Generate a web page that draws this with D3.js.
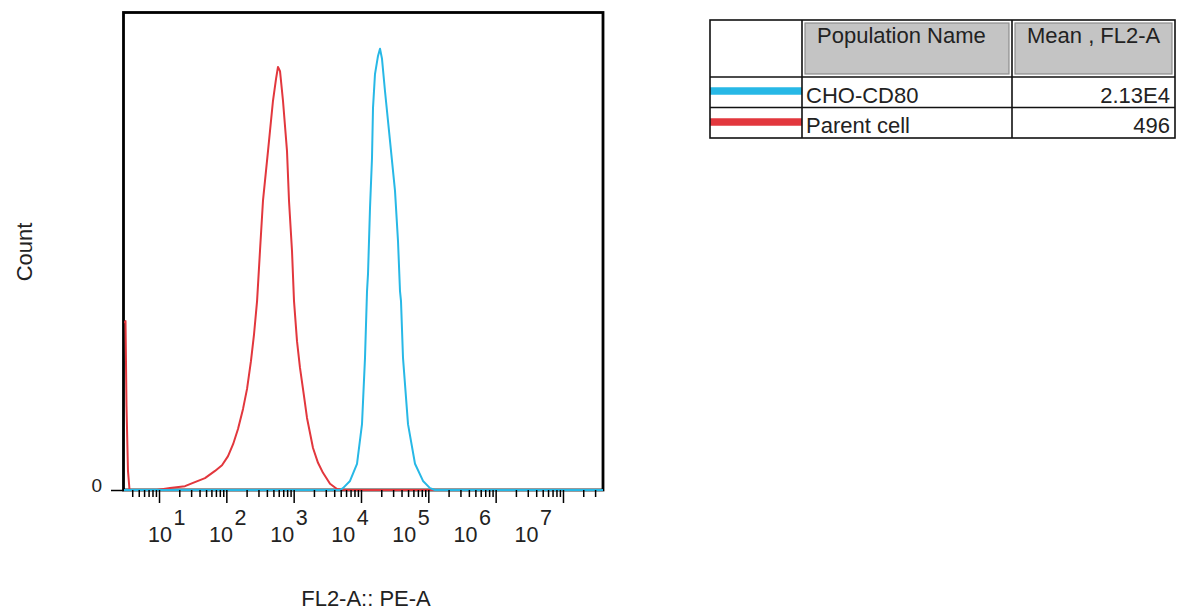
<!DOCTYPE html>
<html>
<head>
<meta charset="utf-8">
<script src="https://cdn.jsdelivr.net/npm/d3@7"></script>
<style>
  body { margin: 0; background: #fff; }
  svg { display: block; font-family: "Liberation Sans", Arial, sans-serif; }
</style>
</head>
<body>
<svg id="chart" width="1181" height="612"></svg>
<script>
// histogram points (FL2-A value, count as % of max)
const parentFL2 = [3.02, 3.18, 3.29, 3.46, 3.65, 9.34, 14.6, 24.3, 32.0, 48.2, 67.9, 86.2, 106, 126, 149, 177, 203, 232, 258, 286, 316, 350, 416, 493, 547, 585, 627, 694, 796, 853, 945, 1012, 1121, 1242, 1424, 1578, 1938, 2299, 2728, 3465, 4402, 5788, 3.93e7];
const parentCount = [35.0, 35.4, 17.6, 4.0, 0, 0, 0.4, 0.8, 1.5, 2.5, 4.0, 5.2, 7.1, 9.6, 12.8, 17.0, 21.2, 27.0, 32.7, 39.6, 50.1, 60.6, 71.1, 81.6, 86.2, 88.7, 87.8, 81.6, 71.1, 60.6, 50.1, 39.6, 31.2, 25.6, 19.7, 15.1, 8.8, 5.7, 3.6, 1.3, 0.2, 0, 0];

const cd80FL2 = [3.02, 4875, 5405, 6868, 8725, 10350, 11470, 12290, 12710, 13610, 14570, 15080, 16140, 17890, 19160, 20510, 22730, 26970, 32000, 35450, 37960, 39280, 42070, 49920, 63410, 83370, 105900, 125700, 3.93e7];
const cd80Count = [0, 0, 0.4, 1.9, 5.5, 13.8, 27.7, 41.7, 45.3, 59.1, 69.6, 80.1, 87.2, 91.0, 92.5, 90.4, 83.6, 73.2, 62.7, 52.2, 41.7, 39.6, 27.7, 13.8, 5.5, 1.9, 0.4, 0, 0];

const populationNames = ["CHO-CD80", "Parent cell"];
const meanValues = ["2.13E4", "496"];
const populationColors = ["#27b8e6", "#e2373d"];
const tableHeaders = ["Population Name", "Mean , FL2-A"];
const decadeExponents = [1, 2, 3, 4, 5, 6, 7];
const yTickValues = [0];

const svg = d3.select("#chart");
const plotLeft = 124, plotRight = 603, plotTop = 12, plotBottom = 490;

const x = d3.scaleLog().domain([3.02, 3.93e7]).range([plotLeft, plotRight]);
const y = d3.scaleLinear().domain([0, 100]).range([plotBottom, plotTop + 1]);

// frame
svg.append("rect")
  .attr("x", plotLeft - 0.5).attr("y", plotTop + 0.5)
  .attr("width", plotRight - plotLeft + 0.5).attr("height", plotBottom - plotTop - 0.5)
  .attr("fill", "none").attr("stroke", "#000").attr("stroke-width", 2.8);

svg.append("clipPath").attr("id", "plot-clip")
  .append("rect").attr("x", plotLeft).attr("y", plotTop)
  .attr("width", plotRight - plotLeft).attr("height", plotBottom - plotTop + 2);

const line = d3.line().x(d => x(d[0])).y(d => y(d[1]));
const series = [
  { color: populationColors[1], pts: d3.zip(parentFL2, parentCount) },
  { color: populationColors[0], pts: d3.zip(cd80FL2, cd80Count) }
];
svg.append("g").attr("clip-path", "url(#plot-clip)")
  .selectAll("path").data(series).join("path")
  .attr("d", d => line(d.pts))
  .attr("fill", "none")
  .attr("stroke", d => d.color)
  .attr("stroke-width", 2)
  .attr("stroke-linejoin", "round");

// x axis: minor and major ticks
const allTicks = x.ticks();
const majorTicks = decadeExponents.map(e => Math.pow(10, e));
const minorTicks = allTicks.filter(t => !majorTicks.some(m => Math.abs(m - t) / m < 1e-9));

const minorAxis = svg.append("g").attr("transform", `translate(0,${plotBottom})`)
  .call(d3.axisBottom(x).tickValues(minorTicks).tickSize(7).tickFormat(""));
const majorAxis = svg.append("g").attr("transform", `translate(0,${plotBottom})`)
  .call(d3.axisBottom(x).tickValues(majorTicks).tickSize(13).tickFormat(""));
[minorAxis, majorAxis].forEach(a => {
  a.select(".domain").remove();
  a.selectAll(".tick line").attr("stroke", "#000").attr("stroke-width", 1.5);
});

// decade labels (FlowJo draws them slightly narrower than the tick spacing)
const labelX = d3.scaleLinear().domain([1, 7]).range([160, 526.5]);
const labels = svg.append("g").attr("fill", "#222").attr("font-size", 21.5);
labels.selectAll("text.base").data(decadeExponents).join("text")
  .attr("class", "base")
  .attr("x", d => labelX(d)).attr("y", 542)
  .attr("text-anchor", "middle")
  .text("10");
labels.selectAll("text.exp").data(decadeExponents).join("text")
  .attr("class", "exp")
  .attr("x", d => labelX(d) + 13.5).attr("y", 525)
  .text(d => d);

// y axis with only the zero tick
const yAxis = svg.append("g").attr("transform", `translate(${plotLeft},0)`)
  .call(d3.axisLeft(y).tickValues(yTickValues).tickSize(13).tickPadding(9));
yAxis.select(".domain").remove();
yAxis.selectAll(".tick line").attr("stroke", "#000").attr("stroke-width", 1.5);
yAxis.selectAll(".tick text")
  .attr("font-family", "Liberation Sans, Arial, sans-serif")
  .attr("font-size", 19).attr("fill", "#222").attr("dy", "0.08em");

// axis titles
svg.append("text")
  .attr("x", 366).attr("y", 606)
  .attr("text-anchor", "middle").attr("font-size", 22).attr("fill", "#222")
  .text("FL2-A:: PE-A");
svg.append("text")
  .attr("transform", "translate(32,252) rotate(-90)")
  .attr("text-anchor", "middle").attr("font-size", 22).attr("fill", "#222")
  .text("Count");

// legend table
const tbl = svg.append("g");
const tx0 = 710, tx1 = 802, tx2 = 1012, tx3 = 1175;
const ty0 = 20, ty1 = 77, rowH = 30.5;
const colEdges = [tx0, tx1, tx2, tx3];

// header grey cells
tableHeaders.forEach((h, i) => {
  const cx = colEdges[i + 1], cw = colEdges[i + 2] - colEdges[i + 1];
  tbl.append("rect")
    .attr("x", cx + 3).attr("y", ty0 + 3)
    .attr("width", cw - 6).attr("height", ty1 - ty0 - 6)
    .attr("fill", "#c4c4c4").attr("stroke", "#8c8c8c").attr("stroke-width", 1.2);
  tbl.append("text")
    .attr("x", cx + 15).attr("y", 43)
    .attr("font-size", 22).attr("fill", "#222")
    .text(h);
});

// rows
const rows = tbl.selectAll("g.row").data(populationNames).join("g")
  .attr("class", "row")
  .attr("transform", (d, i) => `translate(0,${ty1 + i * rowH})`);
rows.append("line")
  .attr("x1", tx0).attr("x2", tx1)
  .attr("y1", (d, i) => 14 + i * 0.5).attr("y2", (d, i) => 14 + i * 0.5)
  .attr("stroke", (d, i) => populationColors[i]).attr("stroke-width", 7.5);
rows.append("text")
  .attr("x", tx1 + 4).attr("y", 25.5)
  .attr("font-size", 22).attr("fill", "#222")
  .text(d => d);
rows.append("text")
  .attr("x", tx3 - 5).attr("y", 25.5)
  .attr("text-anchor", "end")
  .attr("font-size", 22).attr("fill", "#222")
  .text((d, i) => meanValues[i]);

// grid lines of the table
const ty3 = ty1 + populationNames.length * rowH;
tbl.append("rect")
  .attr("x", tx0).attr("y", ty0).attr("width", tx3 - tx0).attr("height", ty3 - ty0)
  .attr("fill", "none").attr("stroke", "#111").attr("stroke-width", 1.6);
[tx1, tx2].forEach(cx => tbl.append("line")
  .attr("x1", cx).attr("x2", cx).attr("y1", ty0).attr("y2", ty3)
  .attr("stroke", "#111").attr("stroke-width", 1.6));
d3.range(populationNames.length).forEach(i => tbl.append("line")
  .attr("x1", tx0).attr("x2", tx3)
  .attr("y1", ty1 + i * rowH).attr("y2", ty1 + i * rowH)
  .attr("stroke", "#111").attr("stroke-width", 1.6));
</script>
</body>
</html>
